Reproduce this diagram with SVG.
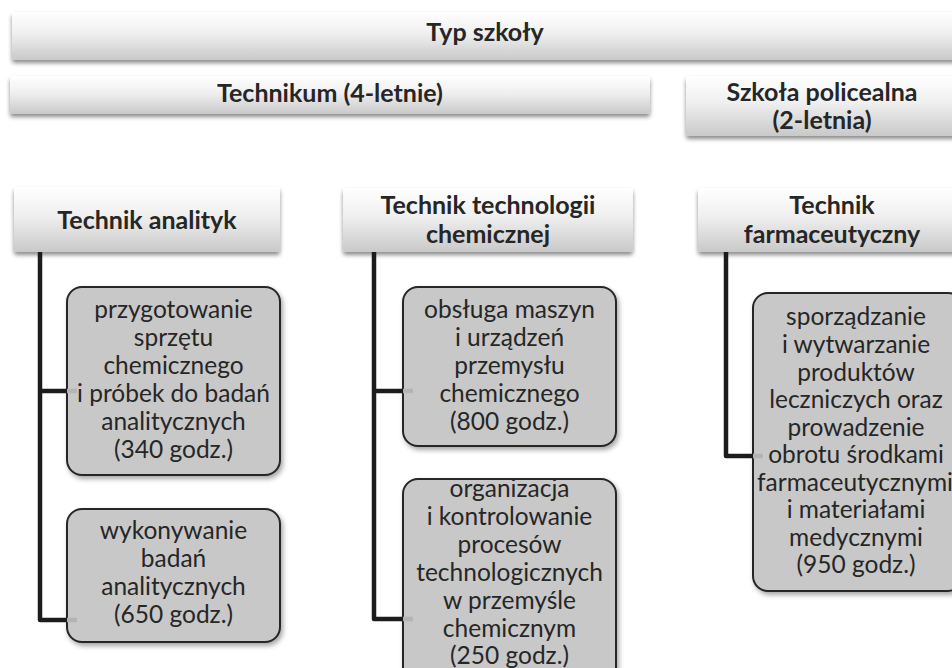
<svg xmlns="http://www.w3.org/2000/svg" width="952" height="668" viewBox="0 0 952 668">
<defs>
<linearGradient id="hg" x1="0" y1="0" x2="0" y2="1">
<stop offset="0" stop-color="#ffffff"/>
<stop offset="0.45" stop-color="#efefef"/>
<stop offset="1" stop-color="#c9c9c9"/>
</linearGradient>
<filter id="sh" x="-5%" y="-20%" width="110%" height="150%">
<feDropShadow dx="0" dy="3" stdDeviation="2" flood-color="#000" flood-opacity="0.45"/>
</filter>
<filter id="sh2" x="-10%" y="-10%" width="125%" height="125%">
<feDropShadow dx="2" dy="3" stdDeviation="2.5" flood-color="#000" flood-opacity="0.35"/>
</filter>
</defs>
<style>
.hdr{fill:url(#hg);filter:url(#sh);}
.box{fill:#c8c8c8;stroke:#262626;stroke-width:2;filter:url(#sh2);}
.ht{font-family:Lato,"Liberation Sans",sans-serif;font-weight:bold;font-size:25px;fill:#262626;text-anchor:middle;}
.bt{font-family:Lato,"Liberation Sans",sans-serif;font-size:24.5px;fill:#262626;text-anchor:middle;}
.con{fill:none;stroke:#1c1c1c;stroke-width:4.5;stroke-linejoin:round;}
.stub{fill:none;stroke:#b4b4b4;stroke-width:4.5;}
</style>
<rect width="952" height="668" fill="#ffffff"/>

<g id="typ-szkoly">
<rect class="hdr" x="12" y="12" width="960" height="48" rx="3"/>
<text class="ht" x="485" y="41">Typ szkoły</text>
</g>
<g id="technikum">
<rect class="hdr" x="10" y="76" width="640" height="38" rx="3"/>
<text class="ht" x="330" y="102">Technikum (4-letnie)</text>
</g>
<g id="szkola-policealna">
<rect class="hdr" x="686" y="76" width="290" height="60" rx="3"/>
<text class="ht" x="822" y="101">Szkoła policealna</text>
<text class="ht" x="822" y="129">(2-letnia)</text>
</g>

<g id="technik-analityk">
<rect class="hdr" x="14" y="187" width="266" height="65" rx="3"/>
<text class="ht" x="147" y="229">Technik analityk</text>
</g>
<g id="technik-technologii">
<rect class="hdr" x="343" y="188" width="290" height="64" rx="3"/>
<text class="ht" x="488" y="214">Technik technologii</text>
<text class="ht" x="488" y="243">chemicznej</text>
</g>
<g id="technik-farmaceutyczny">
<rect class="hdr" x="698" y="188" width="280" height="64" rx="3"/>
<text class="ht" x="832" y="214">Technik</text>
<text class="ht" x="832" y="243">farmaceutyczny</text>
</g>

<g id="przygotowanie">
<rect class="box" x="67" y="287" width="213" height="188" rx="15"/>
<text class="bt" x="173.5" y="318">przygotowanie</text>
<text class="bt" x="173.5" y="346">sprzętu</text>
<text class="bt" x="173.5" y="374">chemicznego</text>
<text class="bt" x="173.5" y="402">i próbek do badań</text>
<text class="bt" x="173.5" y="430">analitycznych</text>
<text class="bt" x="173.5" y="458">(340 godz.)</text>
</g>
<g id="wykonywanie">
<rect class="box" x="67" y="509" width="213" height="133" rx="15"/>
<text class="bt" x="173.5" y="539">wykonywanie</text>
<text class="bt" x="173.5" y="567">badań</text>
<text class="bt" x="173.5" y="595">analitycznych</text>
<text class="bt" x="173.5" y="623">(650 godz.)</text>
</g>
<g id="obsluga">
<rect class="box" x="403" y="287" width="213" height="159" rx="15"/>
<text class="bt" x="509.5" y="318">obsługa maszyn</text>
<text class="bt" x="509.5" y="346">i urządzeń</text>
<text class="bt" x="509.5" y="374">przemysłu</text>
<text class="bt" x="509.5" y="402">chemicznego</text>
<text class="bt" x="509.5" y="430">(800 godz.)</text>
</g>
<g id="organizacja">
<rect class="box" x="403" y="479" width="213" height="205" rx="15"/>
<text class="bt" x="509.5" y="497">organizacja</text>
<text class="bt" x="509.5" y="525">i kontrolowanie</text>
<text class="bt" x="509.5" y="553">procesów</text>
<text class="bt" x="509.5" y="581">technologicznych</text>
<text class="bt" x="509.5" y="609">w przemyśle</text>
<text class="bt" x="509.5" y="637">chemicznym</text>
<text class="bt" x="509.5" y="664">(250 godz.)</text>
</g>
<g id="sporzadzanie">
<rect class="box" x="753" y="293" width="210" height="298" rx="15"/>
<text class="bt" x="856" y="325">sporządzanie</text>
<text class="bt" x="856" y="353">i wytwarzanie</text>
<text class="bt" x="856" y="380.5">produktów</text>
<text class="bt" x="856" y="408">leczniczych oraz</text>
<text class="bt" x="856" y="435.5">prowadzenie</text>
<text class="bt" x="856" y="463">obrotu środkami</text>
<text class="bt" x="855" y="490.5">farmaceutycznymi</text>
<text class="bt" x="856" y="518">i materiałami</text>
<text class="bt" x="856" y="545.5">medycznymi</text>
<text class="bt" x="856" y="573">(950 godz.)</text>
</g>

<g id="connectors">
<path class="con" d="M40,252 V620 H67 M40,391 H67"/>
<path class="stub" d="M67,391 H77 M67,620 H77"/>
<path class="con" d="M374,252 V619 H403 M374,391 H403"/>
<path class="stub" d="M403,391 H413 M403,619 H413"/>
<path class="con" d="M726,252 V456 H753"/>
<path class="stub" d="M753,456 H763"/>
</g>
</svg>
